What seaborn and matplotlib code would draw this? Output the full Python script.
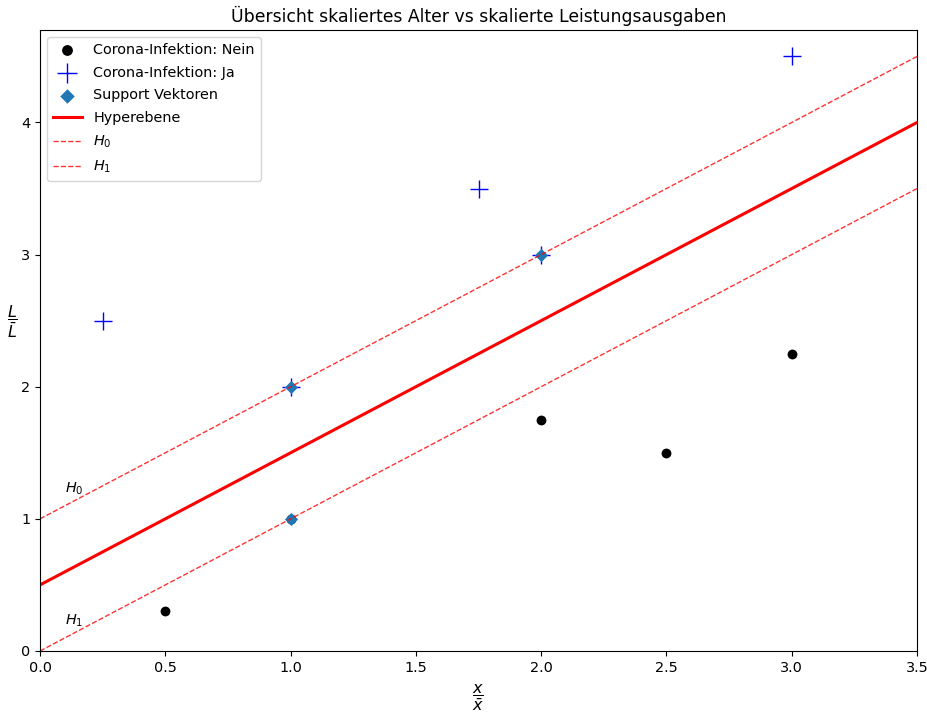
import matplotlib
matplotlib.use("Agg")
import matplotlib.pyplot as plt
import seaborn as sns
import numpy as np
import pandas as pd

nein_x = [0.5, 1.0, 2.0, 2.5, 3.0]
nein_y = [0.3, 1.0, 1.75, 1.5, 2.25]
ja_x = [0.25, 1.0, 1.75, 2.0, 3.0]
ja_y = [2.5, 2.0, 3.5, 3.0, 4.5]
sv_x = [1.0, 2.0, 1.0]
sv_y = [2.0, 3.0, 1.0]
line_x = [0.0, 3.5]
hyper_y = [0.5, 4.0]
h0_y = [1.0, 4.5]
h1_y = [0.0, 3.5]

plt.style.use("default")
plt.rcParams['font.family'] = ['DejaVu Sans']

fig = plt.figure(figsize=(9.28, 7.12), dpi=100)
ax = fig.add_axes([40/928, 1-651/712, 877/928, 621/712])

sns.scatterplot(x=nein_x, y=nein_y, color="black", marker="o", s=50,
                edgecolor="black", linewidth=0, label="Corona-Infektion: Nein", ax=ax)
sns.scatterplot(x=ja_x, y=ja_y, color="blue", marker="+", s=180,
                linewidth=1.0, label="Corona-Infektion: Ja", ax=ax)
sns.scatterplot(x=sv_x, y=sv_y, color="#1f77b4", marker="D", s=45,
                linewidth=0, label="Support Vektoren", ax=ax)
sns.lineplot(x=line_x, y=hyper_y, color="red", linewidth=2.2, label="Hyperebene", ax=ax)
sns.lineplot(x=line_x, y=h0_y, color="red", linewidth=1, linestyle="--", alpha=0.8,
             label="$H_0$", ax=ax)
sns.lineplot(x=line_x, y=h1_y, color="red", linewidth=1, linestyle="--", alpha=0.8,
             label="$H_1$", ax=ax)

ax.text(0.1, 1.2, "$H_0$", fontsize=10.4)
ax.text(0.1, 0.2, "$H_1$", fontsize=10.4)

ax.set_xlim(0, 3.5)
ax.set_ylim(0, 4.7)
ax.set_xticks([0, 0.5, 1.0, 1.5, 2.0, 2.5, 3.0, 3.5])
ax.set_yticks([0, 1, 2, 3, 4])
ax.tick_params(labelsize=10.4)
ax.set_title("Übersicht skaliertes Alter vs skalierte Leistungsausgaben", fontsize=12.4)
ax.set_xlabel(r"$\dfrac{x}{\bar{x}}$", fontsize=11.5, labelpad=6)
ax.set_ylabel(r"$\dfrac{L}{\bar{L}}$", fontsize=11.5, rotation=0, labelpad=6)
ax.legend(loc="upper left", fontsize=10.4, labelspacing=0.6, markerscale=1.1)

fig.savefig("out.png", dpi=100)
